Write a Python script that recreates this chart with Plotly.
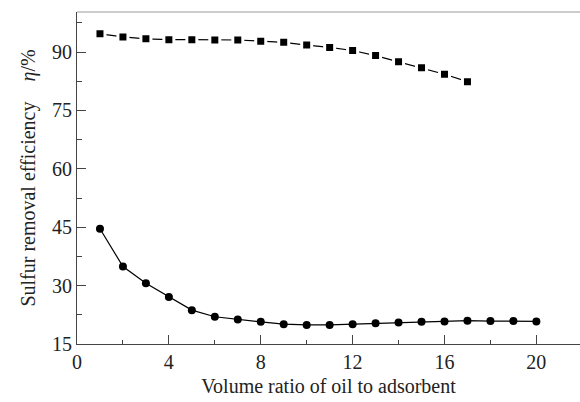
import plotly.graph_objects as go

# Volume ratio of oil to adsorbent
ratio_sq = list(range(1, 18))
ratio_ci = list(range(1, 21))

# Sulfur removal efficiency (%)
eff_sq = [94.7, 93.9, 93.4, 93.2, 93.2, 93.1, 93.1, 92.8, 92.5, 91.8,
          91.2, 90.4, 89.1, 87.5, 86.0, 84.3, 82.4]
eff_ci = [44.6, 34.9, 30.6, 27.1, 23.7, 22.0, 21.3, 20.7, 20.1, 19.9,
          19.9, 20.1, 20.3, 20.5, 20.7, 20.8, 21.0, 20.9, 20.9, 20.8]

x_ticks = [0, 4, 8, 12, 16, 20]
y_ticks = [15, 30, 45, 60, 75, 90]

FONT = "Liberation Serif, Times New Roman, serif"

fig = go.Figure()
fig.add_trace(go.Scatter(
    x=ratio_sq, y=eff_sq, mode="lines+markers",
    line=dict(color="black", width=1.2),
    marker=dict(symbol="square", size=10, color="black",
                line=dict(color="white", width=3)),
    showlegend=False,
))
fig.add_trace(go.Scatter(
    x=ratio_ci, y=eff_ci, mode="lines+markers",
    line=dict(color="black", width=1.2),
    marker=dict(symbol="circle", size=8, color="black"),
    showlegend=False,
))

axis_common = dict(
    showgrid=False, zeroline=False, showline=True,
    linecolor="#444", linewidth=1.2,
    ticks="inside", ticklen=9, tickwidth=1, tickcolor="#444",
    tickfont=dict(family=FONT, size=20, color="#222"),
)

fig.update_xaxes(
    **axis_common,
    range=[0, 21.9], tickvals=x_ticks,
    minor=dict(dtick=2, tick0=0, ticks="inside", ticklen=4, tickcolor="#444"),
    title=dict(text="Volume ratio of oil to adsorbent",
               font=dict(family=FONT, size=20, color="#222"), standoff=6),
)
fig.update_yaxes(
    **axis_common,
    range=[15, 100.3], tickvals=y_ticks,
    minor=dict(dtick=7.5, tick0=15, ticks="inside", ticklen=5, tickcolor="#444"),
    title=dict(text="Sulfur removal efficiency\u00a0\u00a0\u00a0\u00a0<i>η</i>/%",
               font=dict(family=FONT, size=20, color="#222"), standoff=10),
)

# thin frame line along the top of the plotting area
fig.add_shape(type="line", xref="paper", yref="paper", x0=0, x1=1, y0=1, y1=1,
              line=dict(color="#999", width=1.2))

fig.update_layout(
    width=580, height=402,
    margin=dict(l=77, r=0, t=12, b=58),
    plot_bgcolor="white", paper_bgcolor="white",
)

fig.write_html("out.html")
